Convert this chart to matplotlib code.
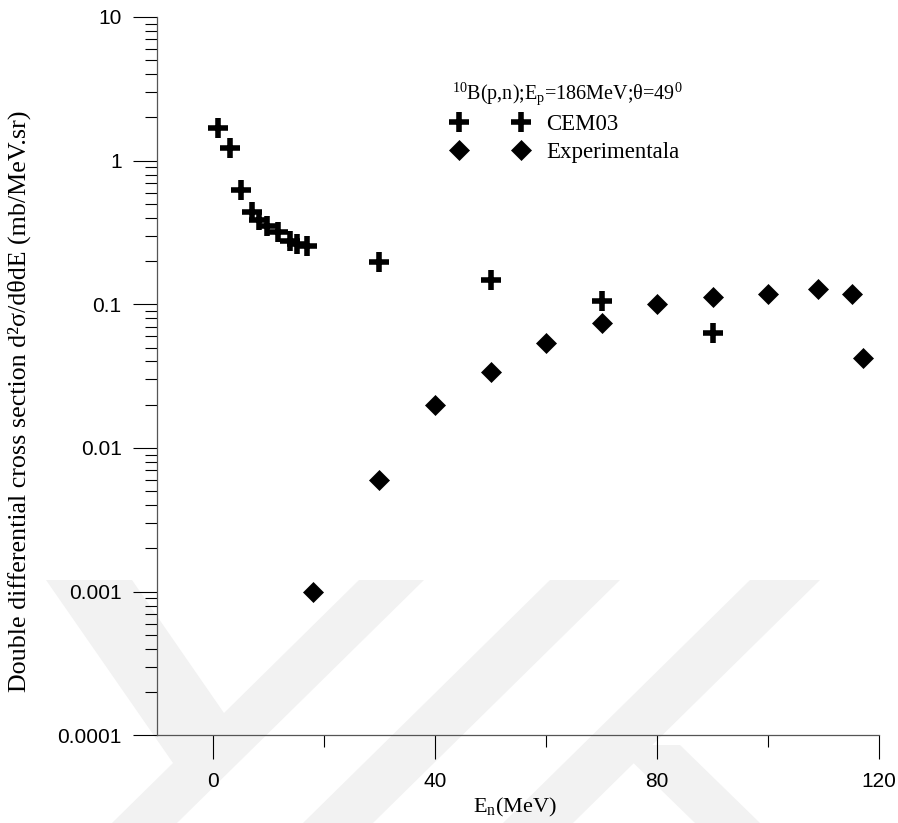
import numpy as np
import matplotlib
matplotlib.use('Agg')
import matplotlib.pyplot as plt
from matplotlib.patches import Polygon
from matplotlib.ticker import FixedLocator, LogLocator, NullFormatter, FuncFormatter

plt.rcParams['mathtext.fontset'] = 'custom'
plt.rcParams['mathtext.rm'] = 'Liberation Serif'
plt.rcParams['mathtext.it'] = 'Liberation Serif:italic'

# CEM03 calculation
cem_e = [1, 3, 5, 7, 8.3, 9.8, 11.8, 13.9, 15.1, 17, 30, 50, 70, 90]
cem_s = [1.68, 1.23, 0.623, 0.436, 0.389, 0.351, 0.318, 0.278, 0.261, 0.253,
         0.196, 0.147, 0.105, 0.063]

# experimental data
exp_e = [18, 30, 40, 50, 60, 70, 80, 90, 100, 109, 115, 117]
exp_s = [0.001, 0.006, 0.02, 0.0336, 0.0535, 0.0745, 0.1, 0.113, 0.118, 0.127,
         0.118, 0.0425]

W, H = 898, 823
fig = plt.figure(figsize=(W / 100, H / 100), dpi=100)

# faint background watermark
def px(pts):
    return [(x / W, 1 - y / H) for x, y in pts]

wm = '#f2f2f2'
shapes = [
    [(46, 580), (132, 580), (224, 713), (359, 580), (424, 580), (177, 823), (112, 823), (173, 763)],
    [(550, 580), (620, 580), (373, 823), (303, 823)],
    [(750, 580), (820, 580), (573, 823), (503, 823)],
    [(615, 745), (680, 745), (760, 823), (695, 823)],
]
for s in shapes:
    fig.patches.append(Polygon(px(s), closed=True, transform=fig.transFigure,
                               facecolor=wm, edgecolor='none', zorder=-5))

ax = fig.add_axes([157.3 / W, (H - 735.3) / H, (879.3 - 157.3) / W, (735.3 - 17) / H])
ax.set_zorder(2)
ax.patch.set_alpha(0)

ax.plot(cem_e, cem_s, linestyle='none', marker='+', ms=14.5, mew=4,
        color='black', label='CEM03', clip_on=False)
ax.plot(exp_e, exp_s, linestyle='none', marker='D', ms=10.3, mew=0.5,
        color='black', label='Experimentala', clip_on=False)

ax.set_yscale('log')
ax.set_xlim(-10, 120)
ax.set_ylim(1e-4, 10)

ax.xaxis.set_major_locator(FixedLocator([0, 40, 80, 120]))
ax.xaxis.set_minor_locator(FixedLocator([20, 60, 100]))
ax.yaxis.set_major_locator(LogLocator(base=10, numticks=10))
ax.yaxis.set_minor_locator(LogLocator(base=10, subs=np.arange(2, 10), numticks=20))
ax.yaxis.set_major_formatter(FuncFormatter(lambda v, p: '%g' % v))
ax.yaxis.set_minor_formatter(NullFormatter())

ax.tick_params(which='major', direction='out', length=17.3, width=0.8, color='black',
               labelsize=15)
ax.tick_params(axis='y', which='major', pad=8.3)
ax.tick_params(axis='x', which='major', pad=9)
ax.tick_params(which='minor', direction='out', length=8.6, width=0.8, color='black')
for lab in ax.get_xticklabels() + ax.get_yticklabels():
    lab.set_family('Liberation Sans')

for side in ['top', 'right']:
    ax.spines[side].set_visible(False)
for side in ['left', 'bottom']:
    ax.spines[side].set_color('#555555')
    ax.spines[side].set_linewidth(0.9)

ax.set_xlabel(r'E$_{\rm n}$(MeV)', family='Liberation Serif', fontsize=16)
ax.xaxis.set_label_coords(0.495, -0.108)
ax.xaxis.label.set_va('baseline')
ax.set_ylabel('Double differential cross section d\u00b2\u03c3/d\u03b8dE (mb/MeV.sr)',
              family='Liberation Serif', fontsize=18.7)
ax.yaxis.label.set_va('center')
ax.yaxis.set_label_coords(-0.1916, 0.465)

title = '$^{10}$B(p,n);E$_{\\rm p}$=186MeV;\u03b8=49$^{0}$'
leg = ax.legend(loc='upper left', bbox_to_anchor=(452 / W, 1 - 80 / H),
                bbox_transform=fig.transFigure, frameon=False, numpoints=2,
                handlelength=3.3, handletextpad=0.8, borderpad=0, borderaxespad=0,
                labelspacing=0.3, alignment='left',
                prop={'family': 'Liberation Serif', 'size': 16.5},
                title=title,
                title_fontproperties={'family': 'Liberation Serif', 'size': 14.5})

fig.savefig('out.png', dpi=100)
